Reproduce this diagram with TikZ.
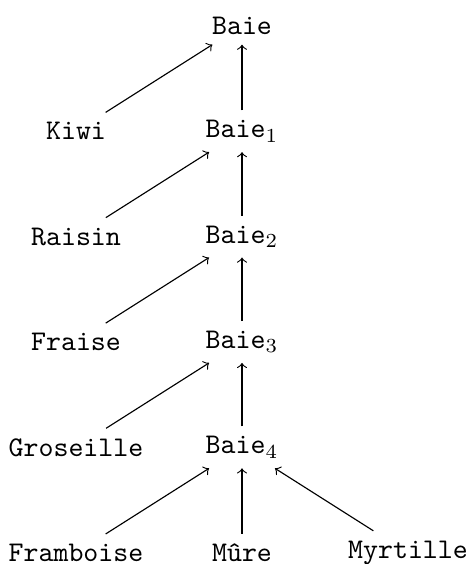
\documentclass[tikz,border=0pt]{standalone}
\begin{document}
\begin{tikzpicture}[x=0.3509pt,y=-0.3509pt,
  lbl/.style={font=\ttfamily},
  arr/.style={->}]
\useasboundingbox (0,0) rectangle (469,564);
\node[lbl] (b0) at (242,25.8) {Baie};
\node[lbl] (kiwi) at (76,131.2) {Kiwi};
\node[lbl] (b1) at (242,131.2) {Baie$_1$};
\node[lbl] (raisin) at (76,236.6) {Raisin};
\node[lbl] (b2) at (242,236.6) {Baie$_2$};
\node[lbl] (fraise) at (76,342) {Fraise};
\node[lbl] (b3) at (242,342) {Baie$_3$};
\node[lbl] (groseille) at (76,447.4) {Groseille};
\node[lbl] (b4) at (242,447.4) {Baie$_4$};
\node[lbl] (framboise) at (76,552.8) {Framboise};
\node[lbl] (mure) at (242,552.8) {M\^ure};
\node[lbl] (myrtille) at (408,552.8) {Myrtille};
\draw[arr] (kiwi) -- (b0);
\draw[arr] (b1) -- (b0);
\draw[arr] (raisin) -- (b1);
\draw[arr] (b2) -- (b1);
\draw[arr] (fraise) -- (b2);
\draw[arr] (b3) -- (b2);
\draw[arr] (groseille) -- (b3);
\draw[arr] (b4) -- (b3);
\draw[arr] (framboise) -- (b4);
\draw[arr] (mure) -- (b4);
\draw[arr] (myrtille) -- (b4);
\end{tikzpicture}
\end{document}
